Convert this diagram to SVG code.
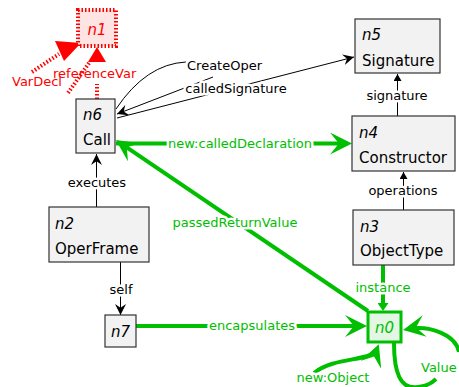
<svg xmlns="http://www.w3.org/2000/svg" width="459" height="387" viewBox="0 0 459 387">
<style>
text{font-family:"DejaVu Sans",sans-serif;font-size:15px;fill:#000}
.id{font-style:italic}
.lbl{font-size:13px;paint-order:stroke;stroke:#fff;stroke-width:5px;stroke-linejoin:round}
.c{text-anchor:middle}
.gt{fill:#00be00}
.rt{fill:#ff0000;font-size:13px}
.box{fill:#f2f2f2;stroke:#333;stroke-width:1.2}
.thin{fill:none;stroke:#000;stroke-width:1}
.green{fill:none;stroke:#00be00;stroke-width:4}
.red{fill:none;stroke:#ff0000;stroke-width:4;stroke-dasharray:1.5 2}
</style>
<defs>
<marker id="aB" viewBox="0 0 10 10" refX="10" refY="5" markerWidth="11" markerHeight="11" markerUnits="userSpaceOnUse" orient="auto"><path d="M0,0 L10,5 L0,10 L3.5,5 Z" fill="#000"/></marker>
<marker id="tB" viewBox="0 0 10 10" refX="10" refY="5" markerWidth="7" markerHeight="8" markerUnits="userSpaceOnUse" orient="auto" preserveAspectRatio="none"><path d="M0,0 L10,5 L0,10 Z" fill="#000"/></marker>
<marker id="aG" viewBox="0 0 10 10" refX="7.7" refY="5" markerWidth="22" markerHeight="22" markerUnits="userSpaceOnUse" orient="auto"><path d="M0,0 L10,5 L0,10 L4,5 Z" fill="#00be00"/></marker>
<marker id="tG" viewBox="0 0 10 10" refX="0" refY="5" markerWidth="8" markerHeight="11" markerUnits="userSpaceOnUse" orient="auto" preserveAspectRatio="none"><path d="M0,0 L10,5 L0,10 Z" fill="#00be00"/></marker>
</defs>

<g id="connectors">
  <g id="e-referenceVar">
    <path class="red" d="M97,99 L97,84"/>
    <polygon points="97,47 106,62 88,62" fill="#ff0000"/>
    <text class="rt" x="53" y="78">referenceVar</text>
  </g>
  <g id="e-VarDecl">
    <path class="red" d="M89,63 L68,93"/>
    <path class="red" d="M32,72 L59,54"/>
    <polygon points="81,43 55,41 64,61" fill="#ff0000"/>
    <text class="rt" x="12" y="86">VarDecl</text>
  </g>
  <g id="e-CreateOper">
    <path class="thin" d="M116,109 Q146,64 186,62"/>
    <path class="thin" d="M213,77 L117,114" marker-end="url(#aB)"/>
    <text class="lbl" x="187" y="70">CreateOper</text>
  </g>
  <g id="e-calledSignature">
    <path class="thin" d="M117,118 L354,57" marker-end="url(#aB)"/>
    <text class="lbl c" x="236" y="93">calledSignature</text>
  </g>
  <g id="e-executes">
    <path class="thin" d="M96.5,207 L96.5,154" marker-end="url(#aB)"/>
    <text class="lbl c" x="97" y="187">executes</text>
  </g>
  <g id="e-self">
    <path class="thin" d="M120.5,262 L120.5,315" marker-end="url(#aB)"/>
    <text class="lbl c" x="121" y="294">self</text>
  </g>
  <g id="e-signature">
    <path class="thin" d="M397.5,116 L397.5,74" marker-end="url(#tB)"/>
    <text class="lbl c" x="397" y="100">signature</text>
  </g>
  <g id="e-operations">
    <path class="thin" d="M403.5,210 L403.5,172" marker-end="url(#tB)"/>
    <text class="lbl c" x="403" y="195">operations</text>
  </g>
  <g id="e-instance">
    <path class="green" d="M383,265 L383,303" marker-end="url(#tG)"/>
    <text class="lbl c gt" x="383" y="292">instance</text>
  </g>
  <g id="e-calledDeclaration">
    <path class="green" d="M116,143.5 L347,143.5" marker-end="url(#aG)"/>
    <text class="lbl c gt" x="240" y="148">new:calledDeclaration</text>
  </g>
  <g id="e-passedReturnValue">
    <path class="green" d="M368,311 L120.1,142.8" marker-end="url(#aG)"/>
    <text class="lbl c gt" x="235" y="227">passedReturnValue</text>
  </g>
  <g id="e-encapsulates">
    <path class="green" d="M136,326 L362,326" marker-end="url(#aG)"/>
    <text class="lbl c gt" x="252" y="330">encapsulates</text>
  </g>
  <g id="e-newObject">
    <path class="green" d="M314,373 C335,356 372,362 377,349" marker-end="url(#aG)"/>
    <text class="lbl c gt" x="333" y="382">new:Object</text>
  </g>
  <g id="e-Value">
    <path class="green" d="M394,343 C394,372 400,390 418,387 C428,386 432,383 436,379"/>
    <path class="green" d="M459,352 C456,335 430,325 408,329" marker-end="url(#aG)"/>
    <text class="lbl gt" x="421" y="372">Value</text>
  </g>
</g>

<g id="n1">
  <rect x="78" y="10" width="38" height="36" fill="#ffe4e4" stroke="#ff0000" stroke-width="4" stroke-dasharray="1.5 2"/>
  <text class="id c" x="97" y="35" style="fill:#ff0000">n1</text>
</g>
<g id="n6">
  <rect class="box" x="76" y="99" width="39" height="54"/>
  <text class="id" x="83" y="120">n6</text>
  <text x="83" y="145">Call</text>
</g>
<g id="n5">
  <rect class="box" x="355" y="19" width="85" height="54"/>
  <text class="id" x="362" y="40">n5</text>
  <text x="362" y="66">Signature</text>
</g>
<g id="n4">
  <rect class="box" x="352" y="116" width="103" height="55"/>
  <text class="id" x="359" y="138">n4</text>
  <text x="359" y="163">Constructor</text>
</g>
<g id="n3">
  <rect class="box" x="353" y="210" width="101" height="55"/>
  <text class="id" x="360" y="232">n3</text>
  <text x="360" y="256">ObjectType</text>
</g>
<g id="n2">
  <rect class="box" x="49" y="207" width="100" height="55"/>
  <text class="id" x="55" y="229">n2</text>
  <text x="55" y="254">OperFrame</text>
</g>
<g id="n7">
  <rect class="box" x="105" y="315" width="31" height="32"/>
  <text class="id c" x="120.5" y="337">n7</text>
</g>
<g id="n0">
  <rect x="368" y="312" width="33" height="30" fill="#e4f7e4" stroke="#00be00" stroke-width="3"/>
  <text class="id c gt" x="384.5" y="333">n0</text>
</g>
</svg>
